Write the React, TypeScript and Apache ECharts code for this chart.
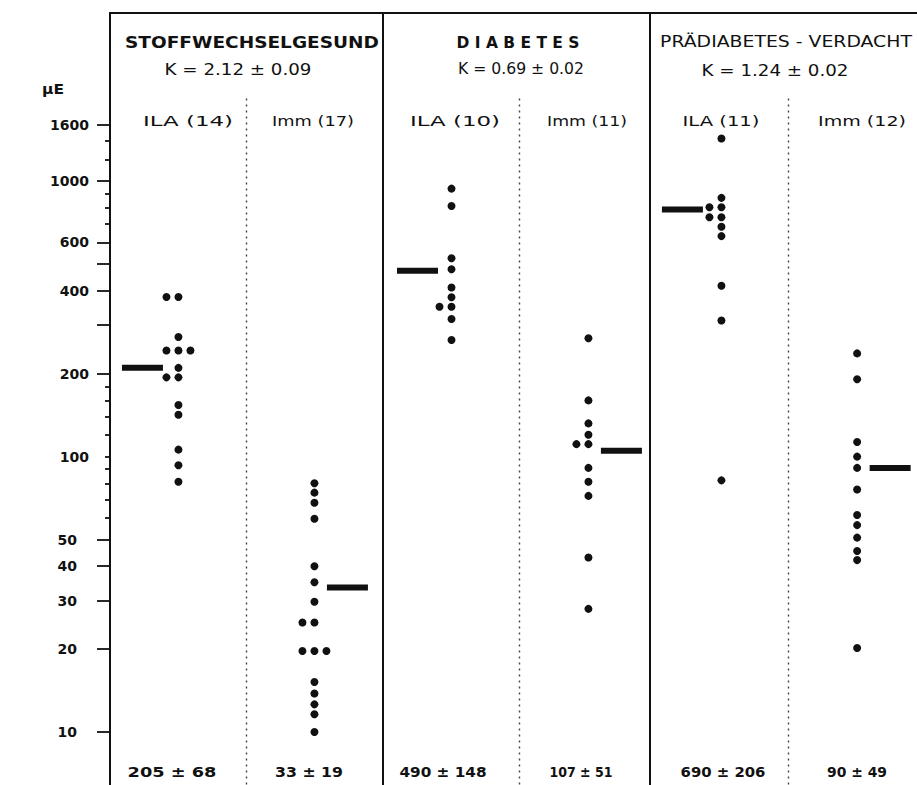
import React, { useEffect, useRef } from 'react';
import * as echarts from 'echarts';

// ---------- data ----------
const columns = ['ILA (14)', 'Imm (17)', 'ILA (10)', 'Imm (11)', 'ILA (11)', 'Imm (12)'];
const groups = ['STOFFWECHSELGESUND', 'D I A B E T E S', 'PRÄDIABETES - VERDACHT'];
const kValues = ['K = 2.12 ± 0.09', 'K = 0.69 ± 0.02', 'K = 1.24 ± 0.02'];
const summaries = ['205 ± 68', '33 ± 19', '490 ± 148', '107 ± 51', '690 ± 206', '90 ± 49'];
const unitLabel = 'µE';

const gesundILA = [380, 380, 272, 243, 243, 243, 210, 194, 194, 154, 142, 106, 93, 81];
const gesundImm = [80, 74, 68, 59.5, 40, 35, 29.7, 25, 25, 19.7, 19.7, 19.7, 15.2, 13.8, 12.6, 11.6, 10];
const diabetesILA = [940, 813, 525, 479, 411, 379, 350, 350, 316, 265];
const diabetesImm = [269, 160, 132, 120, 111, 111, 91, 81, 72, 43, 28];
const praeILA = [1430, 870, 804, 804, 740, 740, 683, 632, 417, 312, 82];
const praeImm = [237, 191, 113, 100, 91, 76, 61.4, 56.4, 50.8, 45.4, 42.1, 20.2];
const meanMarks = [210, 33.5, 473, 105, 790, 91];

const labelTicks = [10, 20, 30, 40, 50, 100, 200, 400, 600, 1000, 1600];
const majorTicks = [10, 20, 30, 40, 50, 200, 300, 400, 500, 600, 1000, 1600];
const minorTicks = [60, 70, 80, 90, 100, 120, 140, 160, 180, 700, 800, 900, 1200, 1400];

// ---------- layout ----------
const W = 917;
const H = 785;
const GRID_LEFT = 110;
const GRID_TOP = 13;
const GRID_W = 813;
const GRID_H = 772;
const X_MAX = 6;
const Y_MIN_LOG = 0.8076;
const Y_MAX_LOG = 3.6108;
const COLUMN_X = [0.509, 1.52, 2.539, 3.557, 4.546, 5.555];
const PANEL_EDGES = [2.03, 4.007];
const DIVIDERS = [1.011, 3.041, 5.041];
const DIVIDER_TOP_LOG = 3.3;
const BAR_OFFSET = [-36, 33, -34, 33, -39, 33];
const DOT_GAP = 12;
const INK = '#111111';
const FONT = '"DejaVu Sans", "Liberation Sans", sans-serif';

const GROUP_POS = [
  { x: 252, y: 42, w: 254 },
  { x: 518, y: 42, w: 123 },
  { x: 786, y: 42, w: 252 },
];
const K_POS = [
  { x: 238, y: 70, w: 147 },
  { x: 521, y: 69, w: 126 },
  { x: 775, y: 71, w: 147 },
];
const COL_LABEL_POS = [
  { x: 188, w: 90 },
  { x: 313, w: 82 },
  { x: 455, w: 90 },
  { x: 587, w: 80 },
  { x: 721, w: 77 },
  { x: 862, w: 88 },
];
const COL_LABEL_Y = 121;
const SUMMARY_POS = [
  { x: 172, w: 89 },
  { x: 309, w: 68 },
  { x: 443, w: 87 },
  { x: 581, w: 63 },
  { x: 723, w: 85 },
  { x: 857, w: 60 },
];
const SUMMARY_Y = 772;

let measureCtx: CanvasRenderingContext2D | null = null;
function measure(text: string, font: string): number {
  if (!measureCtx) measureCtx = document.createElement('canvas').getContext('2d');
  if (!measureCtx) return text.length * 8;
  measureCtx.font = font;
  return measureCtx.measureText(text).width || 1;
}

function stretched(text: string, cx: number, cy: number, width: number, size: number, weight: string) {
  const fontStr = `${weight} ${size}px ${FONT}`;
  const natural = measure(text, fontStr);
  return {
    type: 'text',
    x: cx,
    y: cy,
    scaleX: width / natural,
    silent: true,
    z: 10,
    style: {
      text,
      font: fontStr,
      fill: INK,
      align: 'center',
      verticalAlign: 'middle',
      textAlign: 'center',
      textVerticalAlign: 'middle',
    },
  };
}

export default function App() {
  const ref = useRef<HTMLDivElement>(null);

  useEffect(() => {
    if (!ref.current) return;
    const chart = echarts.init(ref.current, undefined, { renderer: 'svg' });

    const columnValues = [gesundILA, gesundImm, diabetesILA, diabetesImm, praeILA, praeImm];
    const dotData: any[] = [];
    columnValues.forEach((vals, ci) => {
      const counts = new Map<number, number>();
      vals.forEach((v) => counts.set(v, (counts.get(v) || 0) + 1));
      const seen = new Map<number, number>();
      vals.forEach((v) => {
        const n = counts.get(v) || 1;
        const k = seen.get(v) || 0;
        seen.set(v, k + 1);
        const slot = n === 1 ? 0 : k - 1;
        dotData.push({
          value: [COLUMN_X[ci], Math.log10(v)],
          symbolOffset: [slot * DOT_GAP, 0],
        });
      });
    });

    const barData = meanMarks.map((v, ci) => ({
      value: [COLUMN_X[ci], Math.log10(v)],
      symbolOffset: [BAR_OFFSET[ci], 0],
    }));

    const borderLines: any[] = PANEL_EDGES.map((x) => ({
      xAxis: x,
      lineStyle: { color: INK, width: 2, type: 'solid' },
    }));
    const dividerLines: any[] = DIVIDERS.map((x) => [
      { coord: [x, DIVIDER_TOP_LOG], lineStyle: { color: '#444', width: 1.4, type: [2, 4] } },
      { coord: [x, Y_MIN_LOG] },
    ]);

    const graphics: any[] = [];
    groups.forEach((g, i) => {
      const p = GROUP_POS[i];
      graphics.push(stretched(g, p.x, p.y, p.w, 16, i === 2 ? 'normal' : 'bold'));
    });
    kValues.forEach((k, i) => {
      const p = K_POS[i];
      graphics.push(stretched(k, p.x, p.y, p.w, 15, 'normal'));
    });
    columns.forEach((c, i) => {
      const p = COL_LABEL_POS[i];
      graphics.push(stretched(c, p.x, COL_LABEL_Y, p.w, 14, 'normal'));
    });
    summaries.forEach((s, i) => {
      const p = SUMMARY_POS[i];
      graphics.push(stretched(s, p.x, SUMMARY_Y, p.w, 14, 'bold'));
    });
    graphics.push(stretched(unitLabel, 53, 89, 22, 14, 'bold'));

    const lg = (v: number) => Math.log10(v);

    chart.setOption({
      animation: false,
      backgroundColor: '#ffffff',
      grid: { left: GRID_LEFT, top: GRID_TOP, width: GRID_W, height: GRID_H, containLabel: false },
      xAxis: {
        type: 'value',
        min: 0,
        max: X_MAX,
        position: 'top',
        axisLine: { show: true, onZero: false, lineStyle: { color: INK, width: 2 } },
        axisTick: { show: false },
        axisLabel: { show: false },
        splitLine: { show: false },
      },
      yAxis: [
        {
          type: 'value',
          min: Y_MIN_LOG,
          max: Y_MAX_LOG,
          position: 'left',
          axisLine: { show: true, onZero: false, lineStyle: { color: INK, width: 2 } },
          axisTick: {
            show: true,
            length: 13,
            customValues: majorTicks.map(lg),
            lineStyle: { color: INK, width: 1.8 },
          },
          axisLabel: {
            show: true,
            margin: 21,
            customValues: labelTicks.map(lg),
            formatter: (v: number) => {
              const n = Math.round(Math.pow(10, v));
              return n >= 100 ? `{w|${n}}` : `{n|${n}}`;
            },
            rich: {
              w: { fontFamily: FONT, fontSize: 14, fontWeight: 'bold', color: INK },
              n: { fontFamily: FONT, fontSize: 14, fontWeight: 'bold', color: INK, padding: [0, 12, 0, 0] },
            },
          },
          splitLine: { show: false },
        },
        {
          type: 'value',
          min: Y_MIN_LOG,
          max: Y_MAX_LOG,
          position: 'left',
          offset: 0,
          axisLine: { show: false },
          axisTick: {
            show: true,
            length: 5,
            customValues: minorTicks.map(lg),
            lineStyle: { color: INK, width: 1.8 },
          },
          axisLabel: { show: false },
          splitLine: { show: false },
        },
      ],
      series: [
        {
          name: 'Einzelwerte',
          type: 'scatter',
          yAxisIndex: 0,
          symbol: 'circle',
          symbolSize: 8,
          itemStyle: { color: INK, opacity: 1 },
          emphasis: { disabled: true },
          silent: true,
          data: dotData,
          markLine: {
            silent: true,
            symbol: ['none', 'none'],
            label: { show: false },
            emphasis: { disabled: true },
            data: [...borderLines, ...dividerLines],
          },
        },
        {
          name: 'Mittelwert',
          type: 'scatter',
          yAxisIndex: 0,
          symbol: 'rect',
          symbolSize: [41, 6],
          itemStyle: { color: INK, opacity: 1 },
          emphasis: { disabled: true },
          silent: true,
          data: barData,
        },
      ],
      graphic: graphics,
    });

    return () => chart.dispose();
  }, []);

  return (
    <div
      ref={ref}
      style={{ position: 'absolute', left: 0, top: 0, width: W, height: H, background: '#fff' }}
    />
  );
}
